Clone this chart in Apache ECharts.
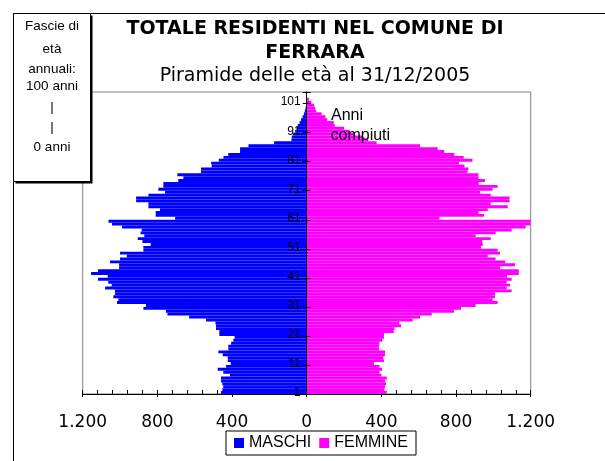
<!DOCTYPE html>
<html>
<head>
<meta charset="utf-8">
<script src="https://cdn.jsdelivr.net/npm/echarts@6/dist/echarts.min.js"></script>
<style>
html,body{margin:0;padding:0;background:#fff;}
#c{width:605px;height:461px;}
</style>
</head>
<body>
<div id="c"></div>
<script>
// Age class labels (bottom to top)
var categories = ['1','2','3','4','5','6','7','8','9','10','11','12','13','14','15','16','17','18','19','20',
'21','22','23','24','25','26','27','28','29','30','31','32','33','34','35','36','37','38','39','40',
'41','42','43','44','45','46','47','48','49','50','51','52','53','54','55','56','57','58','59','60',
'61','62','63','64','65','66','67','68','69','70','71','72','73','74','75','76','77','78','79','80',
'81','82','83','84','85','86','87','88','89','90','91','92','93','94','95','96','97','98','99','100',
'101','102','103','104'];

// MASCHI (residents, by age class)
var maschi = [459,452,447,452,459,459,411,447,477,432,
407,423,423,450,473,420,420,405,393,386,
468,468,486,486,489,539,630,746,754,875,
861,1016,1009,1036,1027,1027,1080,1045,1063,1118,
1066,1155,1118,1005,1005,1054,1000,964,1000,875,
875,836,880,905,870,890,884,989,1043,1062,
705,809,809,786,848,848,914,914,848,759,
795,768,768,688,661,693,566,566,509,512,
471,446,420,357,357,312,175,82,80,75,
62,55,48,38,30,22,15,10,6,3,
2,1,0,0];

// FEMMINE (residents, by age class)
var femmine = [429,416,420,425,420,429,400,390,404,390,
360,414,410,420,420,388,388,390,404,414,
414,466,470,505,495,568,607,670,789,827,
905,1023,996,1009,1009,1098,1071,1089,1071,1098,
1073,1136,1136,1036,1116,1063,1012,970,1036,1023,
934,943,940,986,905,1012,1098,1173,1198,1200,
712,950,920,970,1077,986,1087,1087,986,929,
996,1023,921,955,920,920,862,866,845,816,
888,841,791,737,702,607,375,330,300,255,
230,200,150,145,110,100,80,50,45,40,
25,12,0,0];

var seriesNames = ['MASCHI','FEMMINE'];
var boxLines = ['Fascie di','età','annuali:','100 anni','|','|','0 anni'];
var titleLines = ['TOTALE RESIDENTI NEL COMUNE DI\nFERRARA','Piramide delle età al 31/12/2005'];

function fmt(v){
  var a = Math.abs(v);
  if (a >= 1000) { var r = String(a % 1000); while (r.length < 3) r = '0' + r; return Math.floor(a/1000) + '.' + r; }
  return String(a);
}

var chart = echarts.init(document.getElementById('c'), null, {renderer:'canvas'});

var gridLeft = 82.7, gridRight = 74.3;
var plotW = 605 - gridLeft - gridRight;
var axisShift = -plotW / 2; // y axis sits at value 0 (centre of symmetric value axis)

var boxY = [26,49,69,86,107,127,147];
var graphics = [
  {type:'rect', silent:true, z:-10, shape:{x:13.5,y:13.5,width:800,height:800}, style:{fill:'none', stroke:'#000', lineWidth:1}},
  {type:'rect', silent:true, z:199, shape:{x:15.5,y:15.5,width:77,height:168}, style:{fill:'#000'}},
  {type:'rect', silent:true, z:200, shape:{x:13.5,y:13.5,width:77,height:168},
    style:{fill:'#fff', stroke:'#000', lineWidth:1}}
];
boxLines.forEach(function(t,i){
  graphics.push({type:'text', silent:true, z:201, x:52, y:boxY[i],
    style:{text:t, font:'13.5px "Liberation Sans"', fill:'#000', align:'center', verticalAlign:'middle'}});
});
graphics.push({type:'text', silent:true, z:201, x:331, y:116, style:{text:'Anni', font:'16px "Liberation Sans"', fill:'#000', align:'left', verticalAlign:'middle'}});
graphics.push({type:'text', silent:true, z:201, x:330.5, y:136, style:{text:'compiuti', font:'16px "Liberation Sans"', fill:'#000', align:'left', verticalAlign:'middle'}});

var option = {
  animation:false,
  backgroundColor:'#fff',
  title:[
    {text:titleLines[0], left:315, textAlign:'center', top:17, padding:0,
      textStyle:{fontFamily:'DejaVu Sans', fontWeight:'bold', fontSize:19, lineHeight:24, color:'#000'}},
    {text:titleLines[1], left:315, textAlign:'center', top:65, padding:0,
      textStyle:{fontFamily:'DejaVu Sans', fontWeight:'normal', fontSize:19, lineHeight:22, color:'#000'}}
  ],
  legend:{data:seriesNames, left:226, top:431, orient:'horizontal', icon:'rect', itemWidth:10, itemHeight:10, itemGap:8,
    borderColor:'#000', borderWidth:1, padding:[4,8], backgroundColor:'#fff',
    textStyle:{fontFamily:'Liberation Sans', fontSize:16, color:'#000'}},
  grid:{left:gridLeft, right:gridRight, top:92, bottom:67, show:true, borderColor:'#808080', borderWidth:1, backgroundColor:'transparent', containLabel:false},
  xAxis:[
    {type:'value', min:-1200, max:1200, interval:400, position:'bottom',
      axisLine:{show:true, onZero:false, lineStyle:{color:'#000', width:1}},
      axisTick:{show:true, inside:true, length:4, lineStyle:{color:'#000'}},
      minorTick:{show:true, splitNumber:5, length:4, lineStyle:{color:'#000'}},
      splitLine:{show:false}, minorSplitLine:{show:false},
      axisLabel:{formatter:fmt, fontFamily:'DejaVu Sans', fontSize:17, color:'#000', margin:20}},
    {type:'value', min:-1200, max:1200, interval:400, position:'bottom',
      axisLine:{show:false, onZero:false},
      axisTick:{show:true, inside:false, length:3, lineStyle:{color:'#000'}},
      splitLine:{show:false}, axisLabel:{show:false}}
  ],
  yAxis:[
    {type:'category', data:categories, position:'left', offset:axisShift, z:10,
      axisLine:{show:true, onZero:false, lineStyle:{color:'#000', width:1}},
      axisTick:{show:true, interval:9, length:4, inside:false, lineStyle:{color:'#000'}},
      axisLabel:{interval:9, fontFamily:'Liberation Sans', fontSize:12, color:'#000', margin:6, padding:[3,0,0,0]},
      splitLine:{show:false}},
    {type:'category', data:categories, position:'left', offset:axisShift, z:10,
      axisLine:{show:false, onZero:false},
      axisTick:{show:true, interval:9, length:4, inside:true, lineStyle:{color:'#000'}},
      axisLabel:{show:false}, splitLine:{show:false}}
  ],
  series:[
    {name:seriesNames[0], type:'bar', stack:'tot', xAxisIndex:0, yAxisIndex:0, barCategoryGap:'0%',
      itemStyle:{color:'#0000FF'}, data:maschi.map(function(v){return -v;})},
    {name:seriesNames[1], type:'bar', stack:'tot', xAxisIndex:0, yAxisIndex:0, barCategoryGap:'0%',
      itemStyle:{color:'#FF00FF'}, data:femmine}
  ],
  graphic:graphics
};
chart.setOption(option);
</script>
</body>
</html>
